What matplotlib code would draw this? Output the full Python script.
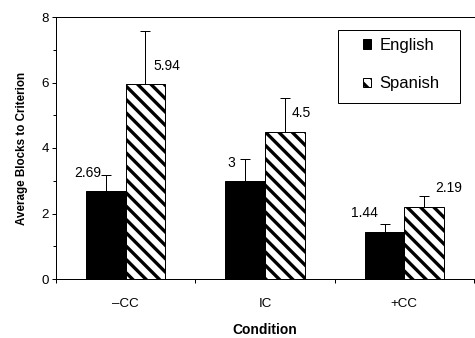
import numpy as np
import matplotlib
matplotlib.use('Agg')
import matplotlib.pyplot as plt
from matplotlib.patches import Rectangle

plt.rcParams['font.family'] = ['Liberation Sans', 'DejaVu Sans']
plt.rcParams['hatch.linewidth'] = 3.0
plt.rcParams['hatch.color'] = 'black'

condicoes = ['\u2013CC', 'IC', '+CC']
ingles = [2.69, 3.0, 1.44]
espanhol = [5.94, 4.5, 2.19]
erro_ingles = [0.49, 0.66, 0.24]
erro_espanhol = [1.63, 1.03, 0.34]

DPI = 80
W, H = 475, 338
px = 72.0 / DPI  # pixels -> pontos

fig = plt.figure(figsize=(W / DPI, H / DPI), dpi=DPI)
ax = fig.add_axes([56 / W, 1 - 279 / H, 418 / W, 262 / H])

x = np.arange(len(condicoes)) + 0.5
w = 0.284

ax.bar(x - w / 2, ingles, w, color='black', edgecolor='black', linewidth=1 * px,
       label='English', zorder=2)
ax.bar(x + w / 2, espanhol, w, color='white', edgecolor='black', linewidth=1 * px,
       hatch='\\\\', label='Spanish', zorder=2)

ax.errorbar(x - w / 2, ingles, yerr=[np.zeros(3), erro_ingles], fmt='none',
            ecolor='black', elinewidth=1 * px, capsize=5 * px, capthick=1 * px, zorder=3)
ax.errorbar(x + w / 2, espanhol, yerr=[np.zeros(3), erro_espanhol], fmt='none',
            ecolor='black', elinewidth=1 * px, capsize=5 * px, capthick=1 * px, zorder=3)

# deslocamentos (px) dos rótulos em relação ao topo da barra de erro
desl_ing = [(-5, 2), (-10, -4), (-7, 11)]
desl_esp = [(8, -35), (7, -15), (11, 8)]
for i in range(3):
    ax.annotate(f'{ingles[i]:g}', (x[i] - w / 2, ingles[i] + erro_ingles[i]),
                xytext=(desl_ing[i][0] * px, desl_ing[i][1] * px), textcoords='offset points',
                ha='right', va='center', fontsize=12.5)
    ax.annotate(f'{espanhol[i]:g}', (x[i] + w / 2, espanhol[i] + erro_espanhol[i]),
                xytext=(desl_esp[i][0] * px, desl_esp[i][1] * px), textcoords='offset points',
                ha='left', va='center', fontsize=12.5)

ax.set_xlim(0, 3)
ax.set_ylim(0, 8)
ax.set_yticks([0, 2, 4, 6, 8])
ax.set_yticks([1, 3, 5, 7], minor=True)
ax.set_xticks([0, 1, 2, 3])
ax.set_xticklabels([])
ax.set_xticks(x, minor=True)
ax.set_xticklabels(condicoes, minor=True)
ax.tick_params(axis='y', which='major', direction='out', length=4 * px, width=1 * px,
               labelsize=12, pad=3)
ax.tick_params(axis='y', which='minor', direction='out', length=3 * px, width=1 * px)
ax.tick_params(axis='x', which='major', direction='out', length=4 * px, width=1 * px)
ax.tick_params(axis='x', which='minor', length=0, labelsize=12, pad=17)

for s in ['left', 'bottom', 'top']:
    ax.spines[s].set_linewidth(1 * px)
ax.spines['right'].set_visible(False)

ax.set_xlabel('Condition', fontsize=12.5, fontweight='bold', labelpad=12)
ax.set_ylabel('Average Blocks to Criterion', fontsize=10.5, fontweight='bold', labelpad=12)

# legenda sem moldura + caixa desenhada à parte
leg = ax.legend(loc='upper left', bbox_to_anchor=(363 / W, 1 - 38 / H),
                bbox_transform=fig.transFigure, fontsize=15, frameon=False,
                handlelength=0.48, handleheight=0.48, handletextpad=0.5,
                labelspacing=1.4, borderpad=0, borderaxespad=0)
fig.patches.append(Rectangle((338 / W, 1 - 103 / H), 122 / W, 73 / H,
                             transform=fig.transFigure, fill=False,
                             edgecolor='black', linewidth=1 * px))

fig.savefig('out.png', dpi=DPI)
